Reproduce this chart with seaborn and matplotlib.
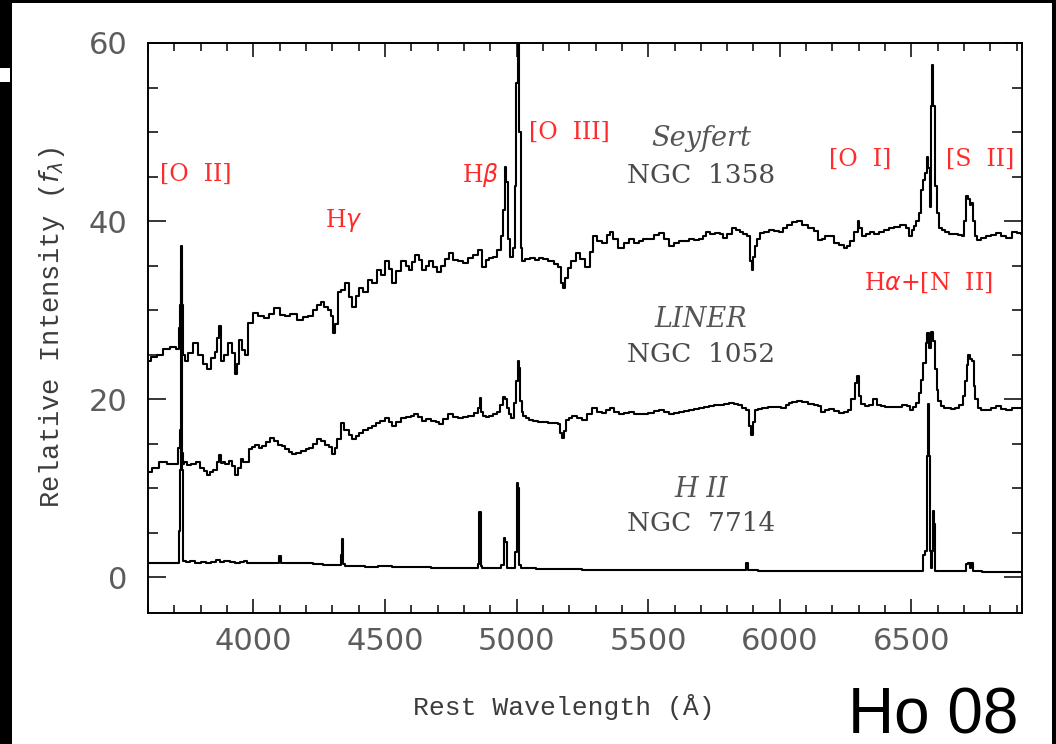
import numpy as np
import pandas as pd
import matplotlib
matplotlib.use("Agg")
import matplotlib.pyplot as plt
from matplotlib.ticker import MultipleLocator
from matplotlib.patches import Rectangle
import seaborn as sns

# ---- Seyfert: NGC 1358 ----
seyfert_wave = [
    3600, 3620, 3646, 3670, 3697, 3712, 3720, 3724, 3727, 3730, 3736, 3745, 3760, 3779,
    3800, 3815, 3830, 3848, 3860, 3867, 3872, 3880, 3895, 3912, 3925, 3935, 3942, 3950,
    3962, 3973, 3988, 4007, 4026, 4052, 4070, 4090, 4110, 4128, 4150, 4179, 4200, 4217,
    4235, 4249, 4262, 4275, 4290, 4300, 4308, 4315, 4325, 4340, 4357, 4370, 4382, 4395,
    4407, 4425, 4445, 4460, 4477, 4495, 4509, 4520, 4534, 4550, 4572, 4585, 4598, 4610,
    4621, 4635, 4649, 4660, 4674, 4690, 4706, 4720, 4735, 4750, 4765, 4788, 4805, 4826,
    4845, 4864, 4876, 4890, 4902, 4918, 4933, 4947, 4952, 4958, 4963, 4970, 4980, 4990,
    4997, 5001, 5007, 5012, 5018, 5024, 5040, 5060, 5080, 5093, 5110, 5131, 5150, 5163,
    5172, 5180, 5190, 5201, 5215, 5233, 5250, 5271, 5285, 5296, 5315, 5335, 5350, 5360,
    5375, 5398, 5415, 5436, 5455, 5474, 5490, 5512, 5530, 5550, 5570, 5588, 5605, 5627,
    5645, 5664, 5685, 5702, 5715, 5728, 5745, 5766, 5780, 5791, 5810, 5829, 5840, 5854,
    5870, 5882, 5890, 5896, 5902, 5910, 5920, 5930, 5950, 5968, 5990, 6006, 6020, 6038,
    6055, 6076, 6095, 6121, 6140, 6152, 6165, 6180, 6197, 6215, 6235, 6250, 6260, 6275,
    6292, 6299, 6306, 6318, 6335, 6349, 6370, 6387, 6405, 6425, 6445, 6470, 6485, 6495,
    6506, 6514, 6524, 6533, 6541, 6548, 6555, 6561, 6567, 6571, 6576, 6581, 6586, 6593,
    6600, 6610, 6620, 6634, 6650, 6667, 6685, 6698, 6705, 6712, 6718, 6725, 6731, 6738,
    6745, 6755, 6770, 6793, 6810, 6831, 6850, 6870, 6895, 6910, 6920,
]
seyfert_flux = [
    24.3, 24.8, 25.0, 25.6, 25.9, 25.6, 28.0, 30.6, 34.5, 30.6, 25.0, 24.3, 25.2, 26.3,
    25.0, 24.0, 23.4, 24.6, 25.3, 26.9, 28.2, 24.3, 25.0, 26.3, 25.2, 22.8, 24.0, 26.7,
    25.5, 25.0, 28.6, 29.7, 29.3, 29.1, 29.6, 30.2, 29.5, 29.3, 29.6, 28.9, 29.2, 29.3,
    30.0, 30.6, 30.9, 30.4, 30.0, 29.3, 27.4, 28.5, 32.0, 32.3, 33.0, 31.5, 30.4, 31.6,
    32.5, 32.0, 33.4, 33.0, 34.5, 34.0, 35.5, 34.6, 33.0, 34.4, 35.5, 35.0, 34.5, 35.4,
    36.2, 35.6, 34.5, 35.0, 35.5, 34.8, 34.3, 35.0, 35.8, 36.4, 35.6, 35.5, 35.3, 35.9,
    36.2, 36.8, 34.9, 35.6, 35.9, 36.0, 36.8, 38.3, 41.3, 46.1, 44.4, 38.0, 36.0, 37.0,
    44.0, 55.5, 62.0, 50.0, 37.0, 35.5, 35.7, 35.9, 35.6, 35.9, 35.7, 35.5, 35.2, 34.9,
    33.0, 32.5, 33.6, 34.7, 35.5, 36.4, 35.8, 34.9, 36.5, 38.3, 37.8, 37.6, 38.4, 38.8,
    38.0, 37.0, 37.6, 38.0, 37.6, 37.8, 38.0, 38.0, 38.4, 38.7, 38.0, 37.2, 37.5, 37.8,
    37.8, 38.0, 37.9, 38.0, 38.3, 38.8, 38.5, 38.7, 38.5, 38.1, 38.5, 39.2, 39.0, 38.8,
    38.5, 38.3, 35.5, 34.5, 36.0, 37.2, 38.0, 38.7, 38.8, 39.0, 38.9, 38.8, 39.2, 39.6,
    39.9, 40.0, 39.6, 39.2, 38.9, 37.9, 38.0, 38.3, 38.3, 37.6, 37.3, 37.0, 37.2, 37.8,
    38.8, 40.0, 39.2, 38.3, 38.6, 38.8, 38.6, 38.8, 39.0, 39.2, 39.3, 39.6, 39.2, 38.3,
    39.0, 39.4, 40.0, 40.9, 43.5, 44.6, 45.4, 47.2, 46.0, 41.6, 52.9, 57.5, 52.9, 44.0,
    40.9, 39.2, 39.0, 38.8, 38.6, 38.5, 38.4, 38.3, 40.0, 42.8, 42.5, 41.8, 42.0, 40.0,
    38.3, 37.9, 38.1, 38.3, 38.4, 38.7, 38.3, 38.1, 38.8, 38.7, 38.6,
]

# ---- LINER: NGC 1052 ----
liner_wave = [
    3600, 3627, 3658, 3684, 3710, 3719, 3724, 3729, 3736, 3741, 3755, 3773, 3790, 3804,
    3818, 3830, 3842, 3855, 3867, 3872, 3880, 3887, 3900, 3912, 3925, 3938, 3946, 3957,
    3966, 3976, 3988, 4000, 4014, 4026, 4039, 4055, 4071, 4085, 4103, 4115, 4128, 4140,
    4154, 4170, 4192, 4205, 4217, 4235, 4249, 4265, 4281, 4295, 4306, 4314, 4325, 4338,
    4348, 4357, 4370, 4382, 4395, 4407, 4425, 4445, 4460, 4471, 4490, 4509, 4520, 4534,
    4550, 4572, 4590, 4605, 4617, 4632, 4649, 4665, 4687, 4700, 4712, 4730, 4750, 4770,
    4788, 4805, 4826, 4849, 4857, 4862, 4868, 4877, 4890, 4902, 4918, 4933, 4945, 4952,
    4960, 4968, 4976, 4985, 4997, 5002, 5007, 5012, 5016, 5022, 5029, 5040, 5054, 5070,
    5093, 5110, 5131, 5150, 5163, 5170, 5175, 5182, 5194, 5205, 5220, 5240, 5258, 5275,
    5296, 5315, 5335, 5348, 5360, 5380, 5398, 5415, 5436, 5455, 5474, 5490, 5512, 5530,
    5550, 5570, 5588, 5605, 5627, 5645, 5664, 5685, 5702, 5720, 5740, 5760, 5779, 5800,
    5817, 5835, 5848, 5865, 5880, 5889, 5895, 5902, 5911, 5925, 5943, 5965, 5990, 6019,
    6030, 6038, 6055, 6076, 6095, 6121, 6140, 6150, 6165, 6180, 6197, 6215, 6235, 6250,
    6265, 6279, 6290, 6297, 6304, 6314, 6330, 6349, 6362, 6375, 6390, 6412, 6430, 6450,
    6476, 6490, 6502, 6512, 6521, 6533, 6540, 6550, 6558, 6564, 6571, 6578, 6585, 6592,
    6599, 6606, 6616, 6630, 6641, 6660, 6673, 6690, 6698, 6706, 6713, 6719, 6726, 6733,
    6740, 6746, 6756, 6775, 6793, 6810, 6831, 6850, 6870, 6895, 6920,
]
liner_flux = [
    11.8, 12.3, 12.9, 12.7, 12.7, 14.5, 16.6, 14.0, 12.7, 12.9, 12.6, 12.7, 12.9, 12.3,
    12.0, 11.5, 11.8, 12.1, 13.0, 13.7, 12.8, 12.9, 12.7, 13.1, 12.5, 11.5, 12.3, 13.3,
    13.0, 12.9, 14.4, 14.6, 14.9, 14.5, 14.7, 15.2, 15.7, 15.3, 14.9, 14.7, 14.4, 14.1,
    13.9, 14.0, 14.2, 14.4, 14.5, 15.0, 15.5, 15.3, 14.9, 14.6, 13.8, 14.5, 15.5, 17.3,
    16.6, 16.6, 16.0, 15.5, 15.9, 16.2, 16.5, 16.8, 17.0, 17.3, 17.6, 17.9, 17.5, 17.0,
    17.5, 17.9, 18.0, 18.1, 18.3, 18.0, 17.6, 17.8, 17.6, 17.4, 17.2, 17.8, 18.3, 18.0,
    17.9, 18.0, 18.1, 18.5, 19.0, 20.1, 18.6, 18.1, 18.0, 18.1, 18.3, 18.6, 19.4, 20.3,
    20.0, 19.0, 18.4, 17.9, 19.6, 22.0, 24.3, 23.5, 19.8, 18.6, 18.1, 17.9, 17.7, 17.6,
    17.5, 17.4, 17.3, 17.3, 17.2, 16.2, 15.7, 16.4, 17.7, 17.9, 18.1, 17.9, 17.7, 18.3,
    19.0, 18.6, 18.5, 18.8, 19.0, 18.6, 18.3, 18.5, 18.6, 18.4, 18.3, 18.4, 18.5, 18.7,
    18.8, 18.6, 18.3, 18.5, 18.6, 18.7, 18.8, 18.9, 19.0, 19.1, 19.2, 19.3, 19.4, 19.5,
    19.6, 19.5, 19.4, 19.0, 18.8, 17.0, 16.0, 17.5, 18.8, 18.9, 19.0, 19.1, 19.1, 19.0,
    19.3, 19.6, 19.7, 19.8, 19.7, 19.5, 19.3, 19.2, 18.6, 18.8, 18.9, 18.7, 18.5, 18.6,
    18.8, 20.0, 21.8, 22.6, 20.4, 19.5, 19.2, 19.4, 20.0, 19.4, 19.2, 19.1, 19.1, 19.1,
    19.4, 19.2, 18.8, 19.1, 19.6, 20.7, 22.2, 24.1, 26.3, 27.4, 25.8, 27.6, 26.5, 23.4,
    21.0, 19.8, 19.2, 19.0, 19.0, 18.9, 19.0, 19.4, 20.4, 22.0, 23.9, 25.0, 24.5, 24.3,
    21.5, 20.0, 19.0, 18.8, 18.8, 19.0, 19.2, 18.9, 18.8, 19.0, 19.0,
]

# ---- H II nucleus: NGC 7714 ----
hii_wave = [
    3600, 3650, 3700, 3716, 3720, 3724, 3727, 3730, 3735, 3750, 3770, 3790, 3810, 3830,
    3850, 3870, 3880, 3900, 3920, 3940, 3960, 3970, 3980, 4000, 4050, 4095, 4101, 4107,
    4150, 4200, 4250, 4280, 4300, 4330, 4335, 4340, 4345, 4355, 4400, 4450, 4500, 4550,
    4600, 4650, 4700, 4750, 4800, 4850, 4857, 4861, 4866, 4875, 4900, 4930, 4950, 4955,
    4960, 4965, 4990, 5000, 5005, 5009, 5013, 5020, 5050, 5100, 5150, 5200, 5300, 5400,
    5500, 5600, 5700, 5800, 5870, 5876, 5882, 5950, 6050, 6150, 6250, 6350, 6450, 6540,
    6548, 6553, 6558, 6561, 6564, 6567, 6571, 6575, 6580, 6584, 6588, 6592, 6650, 6706,
    6712, 6718, 6724, 6731, 6736, 6800, 6920,
]
hii_flux = [
    1.65, 1.65, 1.65, 1.65, 5.2, 12.1, 37.2, 12.1, 1.8, 1.7, 1.8, 1.6, 1.7, 1.6,
    1.7, 1.9, 1.7, 1.8, 1.7, 1.6, 1.7, 1.8, 1.6, 1.6, 1.6, 1.6, 2.4, 1.6,
    1.6, 1.6, 1.55, 1.4, 1.4, 1.4, 2.5, 4.3, 1.5, 1.3, 1.3, 1.2, 1.25, 1.2,
    1.2, 1.15, 1.1, 1.1, 1.1, 1.1, 1.5, 7.3, 1.3, 1.0, 1.0, 1.0, 1.4, 4.45,
    4.0, 1.0, 1.0, 2.8, 10.6, 10.0, 1.4, 1.0, 1.0, 0.95, 0.9, 0.9, 0.85, 0.85,
    0.8, 0.8, 0.8, 0.8, 0.8, 1.6, 0.8, 0.75, 0.75, 0.7, 0.7, 0.7, 0.7, 0.7,
    2.5, 3.0, 3.0, 13.6, 19.5, 13.6, 3.0, 1.0, 3.0, 7.4, 6.0, 0.7, 0.7, 0.7,
    1.5, 1.6, 1.0, 1.6, 0.7, 0.65, 0.6,
]

# ---- annotation text ----
line_names = ["[O  II]", r"H$\gamma$", r"H$\beta$", "[O  III]", "[O  I]", "[S  II]",
              r"H$\alpha$+[N  II]"]
line_name_x = [3783, 4343, 4864, 5200, 6304, 6761, 6563]
line_name_y = [45.2, 40.1, 45.2, 50.0, 46.9, 46.9, 33.1]

class_names = ["Seyfert", "LINER", "H II"]
galaxy_names = ["NGC  1358", "NGC  1052", "NGC  7714"]
class_y = [49.3, 28.9, 9.9]
galaxy_y = [45.1, 25.0, 6.1]
label_x = 5700

x_ticks = [4000, 4500, 5000, 5500, 6000, 6500]
y_ticks = [0, 20, 40, 60]

spectra = pd.concat([
    pd.DataFrame({"wavelength": seyfert_wave, "flux": seyfert_flux, "galaxy": "NGC 1358"}),
    pd.DataFrame({"wavelength": liner_wave, "flux": liner_flux, "galaxy": "NGC 1052"}),
    pd.DataFrame({"wavelength": hii_wave, "flux": hii_flux, "galaxy": "NGC 7714"}),
], ignore_index=True)

sns.set_style("ticks")
plt.rcParams["font.family"] = ["DejaVu Sans"]

W, H = 1056, 744
fig = plt.figure(figsize=(W / 100, H / 100), dpi=100, facecolor="black")
# white page on the dark background
fig.patches.append(Rectangle((12 / W, 0), 1040 / W, 741 / H, transform=fig.transFigure,
                             facecolor="white", edgecolor="none", zorder=-10))
fig.patches.append(Rectangle((0, (744 - 82) / H), 10 / W, 14 / H, transform=fig.transFigure,
                             facecolor="white", edgecolor="none", zorder=-10))

ax = fig.add_axes([148 / W, (744 - 613) / H, 874 / W, 570 / H])
ax.set_facecolor("white")

for name, grp in spectra.groupby("galaxy", sort=False):
    sns.lineplot(data=grp, x="wavelength", y="flux", estimator=None, sort=False,
                 drawstyle="steps-mid", color="black", linewidth=1.5, ax=ax, legend=False)

ax.set_xlim(3600, 6920)
ax.set_ylim(-4, 60)
ax.set_xticks(x_ticks)
ax.set_yticks(y_ticks)
ax.xaxis.set_minor_locator(MultipleLocator(100))
ax.yaxis.set_minor_locator(MultipleLocator(5))
ax.tick_params(which="both", direction="in", top=True, right=True, width=1.1,
               color="black", labelcolor="#5c5c5c", labelsize=22)
ax.tick_params(axis="x", which="major", length=10, pad=10)
ax.tick_params(axis="x", which="minor", length=5.5)
ax.tick_params(axis="y", which="major", length=13, pad=15)
ax.tick_params(axis="y", which="minor", length=7.5)
for sp in ax.spines.values():
    sp.set_linewidth(1.4)
    sp.set_color("black")

mono = "Liberation Mono"
ax.set_xlabel(r"Rest Wavelength (Å)", fontfamily=mono, fontsize=19, color="#3c3c3c")
ax.set_ylabel(r"Relative Intensity ($f_\lambda$)", fontfamily=mono, fontsize=19.5,
              color="#3c3c3c")
ax.xaxis.set_label_coords(0.476, -0.142)
ax.yaxis.set_label_coords(-0.093, 0.5)

for txt, lx, ly in zip(line_names, line_name_x, line_name_y):
    ax.text(lx, ly, txt, color="#ff2a2a", fontfamily="DejaVu Serif", fontsize=17,
            ha="center", va="center")

for cls, gal, cy, gy in zip(class_names, galaxy_names, class_y, galaxy_y):
    ax.text(label_x, cy, cls, color="#555555", fontfamily="DejaVu Serif", style="italic",
            fontsize=19.5, ha="center", va="center")
    ax.text(label_x, gy, gal, color="#4a4a4a", fontfamily="DejaVu Serif", fontsize=19,
            ha="center", va="center")

fig.text(848 / W, (744 - 733) / H, "Ho 08", fontfamily="Liberation Sans", fontsize=46,
         color="black", ha="left", va="baseline")

fig.savefig("out.png", dpi=100, facecolor=fig.get_facecolor())
